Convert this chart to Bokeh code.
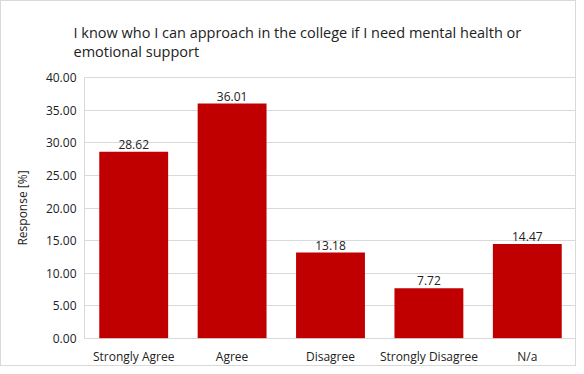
from bokeh.plotting import figure
from bokeh.models import ColumnDataSource, LabelSet, Span, NumeralTickFormatter, FixedTicker, Title
from bokeh.core.properties import value
from bokeh.embed import file_html
from bokeh.resources import INLINE

categories = ["Strongly Agree", "Agree", "Disagree", "Strongly Disagree", "N/a"]
values = [28.62, 36.01, 13.18, 7.72, 14.47]
labels = ["28.62", "36.01", "13.18", "7.72", "14.47"]
y_ticks = [0, 5, 10, 15, 20, 25, 30, 35, 40]

title_text = "I know who I can approach in the college if I need mental health or\nemotional support"

FONT = "Open Sans"
TXT = "#222222"

src = ColumnDataSource(dict(cat=categories, val=values, lab=labels))

p = figure(x_range=categories, y_range=(0, 40), width=576, height=366,
           output_backend="svg", toolbar_location=None, title=None,
           min_border_left=83, min_border_right=1, min_border_top=76, min_border_bottom=27)

spacer = Title(text=" ", text_font_size="4px", standoff=8)
main_title = Title(text=title_text, text_font=FONT, text_font_size="14.5px",
                   text_font_style="normal", text_color=TXT, align="left", offset=-11, standoff=4)
p.add_layout(spacer, "above")
p.add_layout(main_title, "above")

p.vbar(x="cat", top="val", width=0.70, source=src, fill_color="#C00000", line_color=None)

p.add_layout(Span(location=0, dimension="width", line_color="#D9D9D9", line_width=1, level="overlay"))

p.add_layout(LabelSet(x="cat", y="val", text="lab", source=src, text_align="center",
                      text_baseline="bottom", y_offset=3, text_font_size=value("12px"),
                      text_font=value(FONT), text_color=value(TXT)))

p.yaxis.ticker = FixedTicker(ticks=y_ticks)
p.yaxis.formatter = NumeralTickFormatter(format="0.00")
p.yaxis.axis_label = "Response [%]"
p.yaxis.axis_label_text_font = FONT
p.yaxis.axis_label_text_font_size = "12px"
p.yaxis.axis_label_text_font_style = "normal"
p.yaxis.axis_label_text_color = TXT
p.yaxis.axis_label_standoff = 12
p.yaxis.major_label_text_font = FONT
p.yaxis.major_label_text_font_size = "12px"
p.yaxis.major_label_text_color = TXT
p.yaxis.major_label_standoff = 8
p.yaxis.axis_line_color = None
p.yaxis.major_tick_line_color = None
p.yaxis.major_tick_out = 0
p.yaxis.minor_tick_line_color = None

p.xaxis.major_label_text_font = FONT
p.xaxis.major_label_text_font_size = "12px"
p.xaxis.major_label_text_color = TXT
p.xaxis.major_label_standoff = 9
p.xaxis.axis_line_color = None
p.xaxis.major_tick_line_color = None
p.xaxis.major_tick_out = 0

p.xgrid.grid_line_color = None
p.ygrid.grid_line_color = "#D9D9D9"
p.outline_line_color = "#D9D9D9"
p.background_fill_color = "white"
p.border_fill_color = "white"
p.styles = {"border": "1px solid #D9D9D9"}

open("out.html", "w").write(file_html(p, INLINE))
